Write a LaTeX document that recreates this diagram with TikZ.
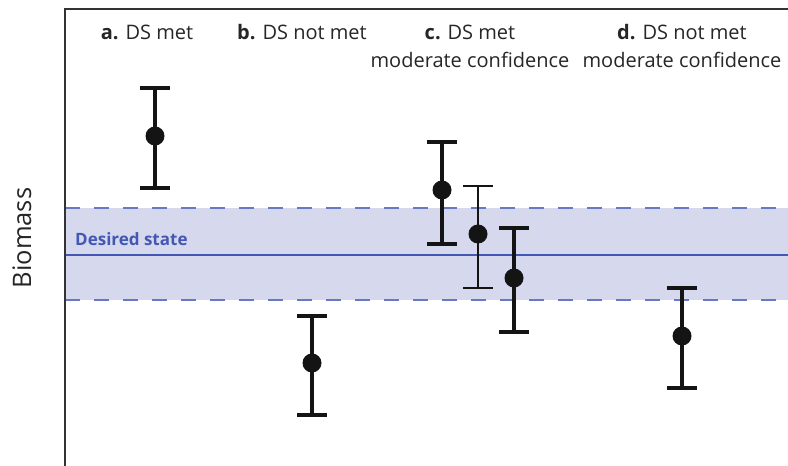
\documentclass[tikz,border=0pt]{standalone}
\usepackage{fontspec}
\setmainfont{Open Sans}
\begin{document}
\begin{tikzpicture}[x=1pt,y=1pt,
  bandline/.style={draw=dsblue!80, line width=2pt, dash pattern=on 15pt off 14pt},
  midline/.style={draw=dsblue, line width=2.4pt},
  bar/.style={line width=3.3pt, black!92},
  thinbar/.style={line width=1.8pt, black!92},
  dot/.style={circle, fill=black!92, inner sep=0pt, minimum size=19pt},
  head/.style={font=\fontsize{20}{28}\selectfont, align=center, text=black!85},
  frame/.style={line width=1.8pt, black!80}]
\definecolor{dsblue}{RGB}{66,88,178}
\definecolor{dsband}{RGB}{214,216,238}
\useasboundingbox (0,0) rectangle (788,466);
% band
\coordinate (bandTL) at (65,258);
\coordinate (bandBR) at (788,166);
\fill[dsband] (bandTL) rectangle (bandBR);
\coordinate (topL) at (65,258); \coordinate (topR) at (788,258);
\coordinate (botL) at (65,166); \coordinate (botR) at (788,166);
\coordinate (midL) at (65,211); \coordinate (midR) at (788,211);
\draw[bandline] (topL) -- (topR);
\draw[bandline] (botL) -- (botR);
\draw[midline] (midL) -- (midR);
% frame
\coordinate (origin) at (65,0);
\coordinate (corner) at (65,457);
\coordinate (topend) at (788,457);
\draw[frame] (origin) -- (corner) -- (topend);
% labels
\node[font=\fontsize{25.5}{26}\selectfont, rotate=90, text=black!85] (ylab) at (22,228) {Biomass};
\node[font=\bfseries\fontsize{17}{18}\selectfont, text=dsblue, anchor=west, inner sep=0pt] (ds) at (75,227) {Desired state};
\node[head] (ha) at (147,434) {\textbf{a.} DS met};
\node[head] (hb) at (302,434) {\textbf{b.} DS not met};
\node[head] (hc) at (470,420) {\textbf{c.} DS met\\moderate confidence};
\node[head] (hd) at (682,420) {\textbf{d.} DS not met\\moderate confidence};
% error bars
\foreach \n/\x/\t/\m/\b/\s in {a/155/378/330/278/bar, b/312/150/103/51/bar, c1/442/324/276/222/bar, c2/478/280/232/178/thinbar, c3/514/238/188/134/bar, d/682/178/130/78/bar}{
  \coordinate (\n T) at (\x,\t);
  \coordinate (\n B) at (\x,\b);
  \draw[\s] (\n T) -- (\n B);
  \draw[\s] ([xshift=-15pt]\n T) -- ([xshift=15pt]\n T);
  \draw[\s] ([xshift=-15pt]\n B) -- ([xshift=15pt]\n B);
  \node[dot] (\n) at (\x,\m) {};
}
\end{tikzpicture}
\end{document}
